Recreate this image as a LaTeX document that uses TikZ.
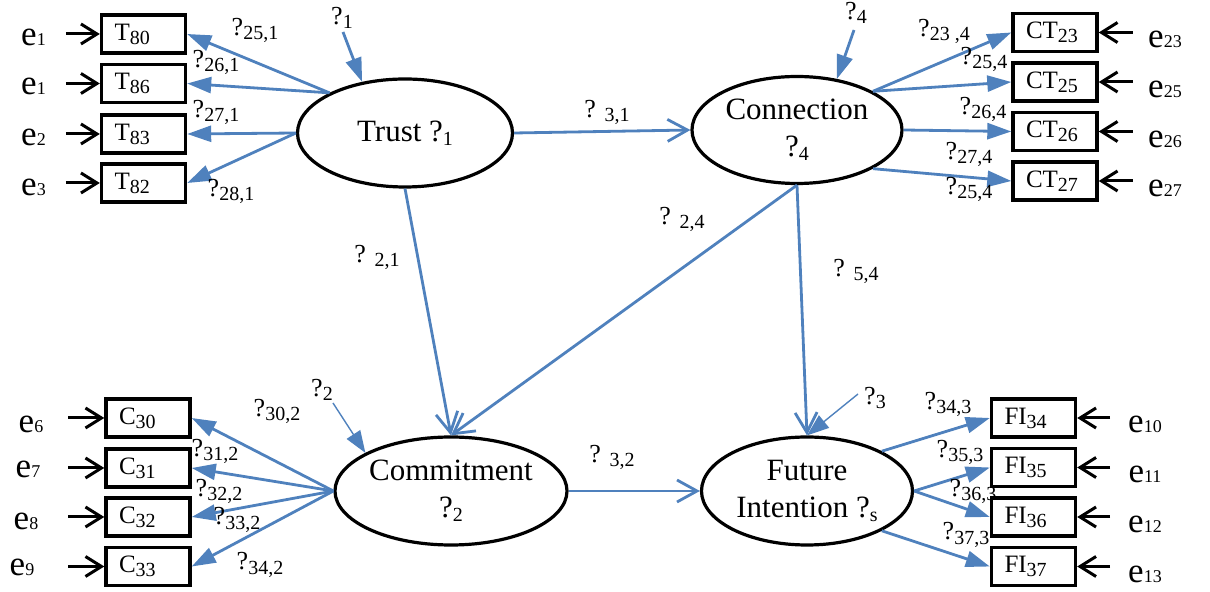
\documentclass[tikz,border=0pt]{standalone}
\usepackage{fontspec}
\setmainfont{Liberation Serif}
\usetikzlibrary{arrows.meta,shapes.geometric}
\definecolor{pathblue}{RGB}{79,129,189}
\newcommand{\lo}[1]{\raisebox{-2pt}{\fontsize{10}{10}\selectfont#1}}
\newcommand{\esub}[1]{{\fontsize{9}{9}\selectfont#1}}
\tikzset{
  ind/.style={draw,line width=1.7pt,minimum height=19pt,text width=29pt,inner xsep=6.5pt,inner ysep=0pt,align=left,font=\fontsize{12.5}{12.5}\selectfont},
  lat/.style={draw,ellipse,line width=1.6pt,inner sep=0pt,align=center,font=\fontsize{15.5}{18.5}\selectfont},
  err/.style={font=\fontsize{17.5}{17.5}\selectfont,inner sep=0pt,anchor=base},
  coef/.style={font=\fontsize{13}{13}\selectfont,inner sep=0pt,anchor=base},
  errarr/.style={line width=1.5pt,-{Straight Barb[length=8pt,width=10pt]}},
  load/.style={pathblue,line width=1.4pt,-{Triangle[length=12pt,width=8pt]}},
  thinload/.style={pathblue,line width=0.7pt,-{Triangle[length=11pt,width=8pt]}},
  regr/.style={pathblue,line width=1.4pt,-{Straight Barb[length=10pt,width=11pt]}}
}
\begin{document}
\begin{tikzpicture}[x=0.5pt,y=-0.5pt]
\useasboundingbox (0,0) rectangle (1210,592);
% latent variables
\node[lat,minimum width=107.5pt,minimum height=54pt] (trust) at (405,133) {Trust ?\lo{1}};
\node[lat,minimum width=105pt,minimum height=53.5pt] (conn) at (797,130) {Connection\\?\lo{4}};
\node[lat,minimum width=116pt,minimum height=54pt] (comm) at (451,491) {Commitment\\?\lo{2}};
\node[lat,minimum width=105.5pt,minimum height=54pt] (fut) at (807,491) {Future\\Intention ?\lo{s}};
% indicators
\node[ind] (t80) at (143.5,34) {T\lo{80}};
\node[ind] (t86) at (143.5,83.5) {T\lo{86}};
\node[ind] (t83) at (143.5,134) {T\lo{83}};
\node[ind] (t82) at (143.5,183) {T\lo{82}};
\node[ind] (c30) at (148,418) {C\lo{30}};
\node[ind] (c31) at (148,468) {C\lo{31}};
\node[ind] (c32) at (148,517) {C\lo{32}};
\node[ind] (c33) at (148,566.5) {C\lo{33}};
\node[ind] (ct23) at (1055,32.5) {CT\lo{23}};
\node[ind] (ct25) at (1055,82) {CT\lo{25}};
\node[ind] (ct26) at (1055,131.5) {CT\lo{26}};
\node[ind] (ct27) at (1055,181) {CT\lo{27}};
\node[ind] (fi34) at (1033.5,418) {FI\lo{34}};
\node[ind] (fi35) at (1033.5,467.5) {FI\lo{35}};
\node[ind] (fi36) at (1033.5,517) {FI\lo{36}};
\node[ind] (fi37) at (1033.5,566.5) {FI\lo{37}};
% error terms
\node[err] (e1a) at (33.5,46) {e\esub{1}};
\node[err] (e1b) at (33.5,95) {e\esub{1}};
\node[err] (e2) at (33.5,146) {e\esub{2}};
\node[err] (e3) at (33.5,196) {e\esub{3}};
\node[err] (e6) at (31,433) {e\esub{6}};
\node[err] (e7) at (28,478) {e\esub{7}};
\node[err] (e8) at (26,530) {e\esub{8}};
\node[err] (e9) at (22,576) {e\esub{9}};
\node[err] (e23) at (1165,48) {e\esub{23}};
\node[err] (e25) at (1165,98) {e\esub{25}};
\node[err] (e26) at (1165,148) {e\esub{26}};
\node[err] (e27) at (1165,197) {e\esub{27}};
\node[err] (e10) at (1145,433) {e\esub{10}};
\node[err] (e11) at (1145,483) {e\esub{11}};
\node[err] (e12) at (1145,533) {e\esub{12}};
\node[err] (e13) at (1145,583) {e\esub{13}};
\draw[errarr] ([xshift=-17pt]t80.west) -- (t80.west);
\draw[errarr] ([xshift=-17pt]t86.west) -- (t86.west);
\draw[errarr] ([xshift=-17pt]t83.west) -- (t83.west);
\draw[errarr] ([xshift=-17pt]t82.west) -- (t82.west);
\draw[errarr] ([xshift=-18pt]c30.west) -- (c30.west);
\draw[errarr] ([xshift=-18pt]c31.west) -- (c31.west);
\draw[errarr] ([xshift=-18pt]c32.west) -- (c32.west);
\draw[errarr] ([xshift=-18pt]c33.west) -- (c33.west);
\draw[errarr] ([xshift=17pt]ct23.east) -- (ct23.east);
\draw[errarr] ([xshift=17pt]ct25.east) -- (ct25.east);
\draw[errarr] ([xshift=17pt]ct26.east) -- (ct26.east);
\draw[errarr] ([xshift=17pt]ct27.east) -- (ct27.east);
\draw[errarr] ([xshift=16.5pt]fi34.east) -- (fi34.east);
\draw[errarr] ([xshift=16.5pt]fi35.east) -- (fi35.east);
\draw[errarr] ([xshift=16.5pt]fi36.east) -- (fi36.east);
\draw[errarr] ([xshift=16.5pt]fi37.east) -- (fi37.east);
% loadings
\draw[load] (trust.152) -- (t80.east);
\draw[load] (trust.152) -- (t86.east);
\draw[load] (trust.west) -- (t83.east);
\draw[load] (trust.west) -- (t82.east);
\draw[load] (comm.west) -- (c30.east);
\draw[load] (comm.west) -- (c31.east);
\draw[load] (comm.west) -- (c32.east);
\draw[load] (comm.west) -- (c33.east);
\draw[load] (conn.27) -- (ct23.west);
\draw[load] (conn.27) -- (ct25.west);
\draw[load] (conn.east) -- (ct26.west);
\draw[load] (conn.-27) -- (ct27.west);
\draw[load] (fut.28) -- (fi34.west);
\draw[load] (fut.east) -- (fi35.west);
\draw[load] (fut.east) -- (fi36.west);
\draw[load] (fut.-28) -- (fi37.west);
% structural paths
\draw[regr] (trust.east) -- (conn.west);
\draw[regr] (trust.south) -- (comm.north);
\draw[regr] (conn.south) -- (comm.north);
\draw[regr] (conn.south) -- (fut.north);
\draw[regr] (comm.east) -- (fut.west);
% disturbances
\coordinate (z1) at (343,32);
\coordinate (z2) at (333,403);
\coordinate (z3) at (858,394);
\coordinate (z4) at (854,30);
\draw[load] (z1) -- (trust.130);
\draw[load] (z4) -- (conn.52);
\draw[thinload] (z2) -- (comm.156);
\draw[thinload] (z3) -- (fut.north);
% coefficients
\node[coef] (k1) at (342,25) {?\lo{1}};
\node[coef] (k2) at (322,397) {?\lo{2}};
\node[coef] (k3) at (875,405) {?\lo{3}};
\node[coef] (k4) at (856,20) {?\lo{4}};
\node[coef] (b31) at (607,118) {? \lo{3,1}};
\node[coef] (b21) at (377,263) {? \lo{2,1}};
\node[coef] (b24) at (682,225) {? \lo{2,4}};
\node[coef] (b54) at (856,277) {? \lo{5,4}};
\node[coef] (b32) at (612,463) {? \lo{3,2}};
\node[coef] (l251) at (255,36) {?\lo{25,1}};
\node[coef] (l261) at (216,68) {?\lo{26,1}};
\node[coef] (l271) at (216,118) {?\lo{27,1}};
\node[coef] (l281) at (231,197) {?\lo{28,1}};
\node[coef] (l302) at (277,417) {?\lo{30,2}};
\node[coef] (l312) at (215,457) {?\lo{31,2}};
\node[coef] (l322) at (219,497) {?\lo{32,2}};
\node[coef] (l332) at (237,525) {?\lo{33,2}};
\node[coef] (l342) at (260,570) {?\lo{34,2}};
\node[coef] (l234) at (944,37) {?\lo{23 ,4}};
\node[coef] (l254a) at (984,65) {?\lo{25,4}};
\node[coef] (l264) at (983,115) {?\lo{26,4}};
\node[coef] (l274) at (969,160) {?\lo{27,4}};
\node[coef] (l254b) at (969,195) {?\lo{25,4}};
\node[coef] (l343) at (948,410) {?\lo{34,3}};
\node[coef] (l353) at (960,458) {?\lo{35,3}};
\node[coef] (l363) at (973,497) {?\lo{36,3}};
\node[coef] (l373) at (966,540) {?\lo{37,3}};
\end{tikzpicture}
\end{document}
